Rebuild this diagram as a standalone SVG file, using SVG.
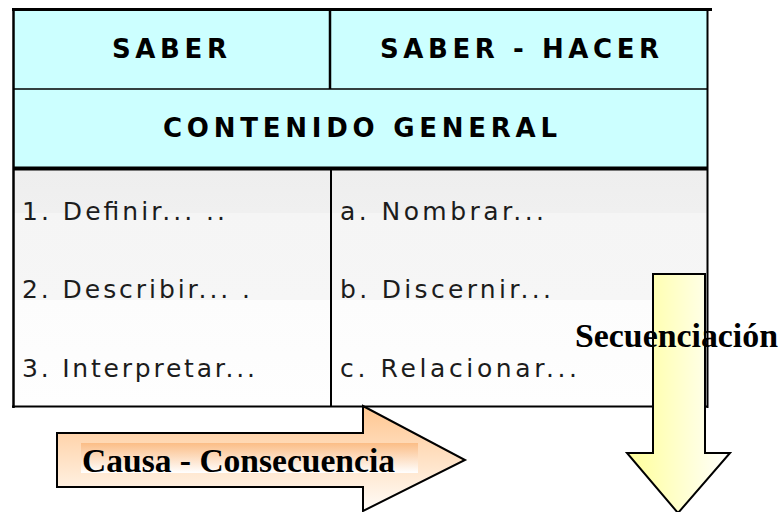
<svg xmlns="http://www.w3.org/2000/svg" width="784" height="512" viewBox="0 0 784 512">
  <defs>
    <linearGradient id="bodyFill" x1="0" y1="0" x2="0" y2="1">
      <stop offset="0" stop-color="#eeeeee"/>
      <stop offset="0.18" stop-color="#f0f0f0"/>
      <stop offset="0.18" stop-color="#f5f5f5"/>
      <stop offset="0.55" stop-color="#f6f6f6"/>
      <stop offset="0.55" stop-color="#fcfcfc"/>
      <stop offset="1" stop-color="#fefefe"/>
    </linearGradient>
    <linearGradient id="orangeFill" x1="0" y1="0" x2="0" y2="1">
      <stop offset="0" stop-color="#ffc690"/>
      <stop offset="1" stop-color="#fffcf8"/>
    </linearGradient>
    <linearGradient id="orangeBox" x1="0" y1="0" x2="0" y2="1">
      <stop offset="0" stop-color="#fbbd86"/>
      <stop offset="1" stop-color="#ffffff"/>
    </linearGradient>
    <linearGradient id="yellowFill" x1="0" y1="0" x2="1" y2="0">
      <stop offset="0" stop-color="#ffff99"/>
      <stop offset="1" stop-color="#ffffff"/>
    </linearGradient>
  </defs>
  <style>
    .head { fill: #ccffff; }
    .line { stroke: #000000; fill: none; }
    .htext { font-family: "DejaVu Sans", "Liberation Sans", sans-serif; font-weight: bold; font-size: 26px; fill: #000000; }
    .btext { font-family: "DejaVu Sans", "Liberation Sans", sans-serif; font-size: 25px; fill: #1c1c1c; }
    .label { font-family: "Liberation Serif", "Times New Roman", serif; font-weight: bold; font-size: 33px; fill: #000000; }
    .arrow { stroke: #000000; stroke-width: 2; stroke-linejoin: miter; }
  </style>
  <rect x="0" y="0" width="784" height="512" fill="#ffffff"/>

  <g id="table">
    <g id="cell-saber">
      <rect class="head" x="13" y="9" width="317" height="80"/>
      <text class="htext" x="112" y="58" textLength="115" lengthAdjust="spacing">SABER</text>
    </g>
    <g id="cell-saber-hacer">
      <rect class="head" x="330" y="9" width="378" height="80"/>
      <text class="htext" x="380" y="58" textLength="279" lengthAdjust="spacing">SABER - HACER</text>
    </g>
    <g id="cell-contenido">
      <rect class="head" x="13" y="89" width="695" height="79"/>
      <text class="htext" x="163" y="137" textLength="394" lengthAdjust="spacing">CONTENIDO GENERAL</text>
    </g>
    <g id="cell-saber-list">
      <rect x="13" y="170" width="318" height="237" fill="url(#bodyFill)"/>
      <text class="btext" x="22" y="220" textLength="203" lengthAdjust="spacing">1. Definir... ..</text>
      <text class="btext" x="22" y="298" textLength="228" lengthAdjust="spacing">2. Describir... .</text>
      <text class="btext" x="22" y="377" textLength="233" lengthAdjust="spacing">3. Interpretar...</text>
    </g>
    <g id="cell-hacer-list">
      <rect x="331" y="170" width="377" height="237" fill="url(#bodyFill)"/>
      <text class="btext" x="340" y="220" textLength="204" lengthAdjust="spacing">a. Nombrar...</text>
      <text class="btext" x="340" y="298" textLength="211" lengthAdjust="spacing">b. Discernir...</text>
      <text class="btext" x="340" y="377" textLength="237" lengthAdjust="spacing">c. Relacionar...</text>
    </g>
    <g id="table-lines">
      <line class="line" x1="12" y1="9.5" x2="712" y2="9.5" stroke-width="3"/>
      <line class="line" x1="13.5" y1="9" x2="13.5" y2="408" stroke-width="2.5"/>
      <line class="line" x1="707.5" y1="9" x2="707.5" y2="408" stroke-width="2" stroke="#333333"/>
      <line class="line" x1="330" y1="9" x2="330" y2="89" stroke-width="2.5"/>
      <line class="line" x1="13" y1="89" x2="708" y2="89" stroke-width="1.5" stroke="#1f3f3f"/>
      <line class="line" x1="13" y1="168.5" x2="708" y2="168.5" stroke-width="4"/>
      <line class="line" x1="331" y1="170" x2="331" y2="407" stroke-width="2"/>
      <line class="line" x1="12" y1="406.5" x2="708" y2="406.5" stroke-width="2"/>
    </g>
  </g>

  <g id="connectors">
    <g id="arrow-causa">
      <polygon class="arrow" fill="url(#orangeFill)" points="57,433 363,433 363,406 465,460 363,511 363,487 57,487"/>
      <rect x="81" y="443" width="337" height="30" fill="url(#orangeBox)"/>
      <text class="label" x="82" y="472" textLength="313" lengthAdjust="spacingAndGlyphs">Causa - Consecuencia</text>
    </g>
    <g id="arrow-secuencia">
      <polygon class="arrow" fill="url(#yellowFill)" points="653,274 705,274 705,453 730,453 678,513 627,453 653,453"/>
      <text class="label" x="575" y="347" textLength="203" lengthAdjust="spacingAndGlyphs">Secuenciación</text>
    </g>
  </g>
</svg>
